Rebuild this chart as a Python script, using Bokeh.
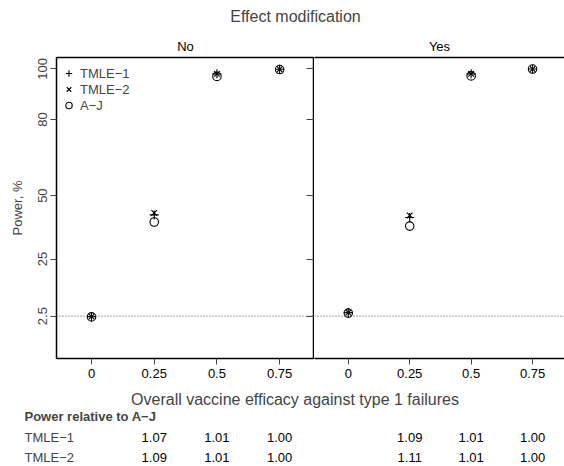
from bokeh.plotting import figure
from bokeh.models import (Range1d, FixedTicker, LinearAxis, Span, Label,
                          Legend, LegendItem)
from bokeh.layouts import column, row
from bokeh.embed import file_html
from bokeh.resources import INLINE
from bokeh.core.properties import value

FONT = "Liberation Sans"

# ---------------- data ----------------
efficacy = [0, 0.25, 0.5, 0.75]
x_tick_labels = ["0", "0.25", "0.5", "0.75"]
y_ticks = [2.5, 25, 50, 80, 100]
y_tick_labels = ["2.5", "25", "50", "80", "100"]
nominal_level = 2.5
panel_names = ["No", "Yes"]
method_names = ["TMLE\u22121", "TMLE\u22122", "A\u2212J"]

no_tmle1 = [2.3, 42.4, 98.0, 99.8]
no_tmle2 = [2.3, 43.2, 98.0, 99.8]
no_aj = [2.2, 39.6, 97.0, 99.7]

yes_tmle1 = [3.9, 41.4, 98.0, 99.9]
yes_tmle2 = [3.9, 42.2, 98.0, 99.9]
yes_aj = [3.7, 38.0, 97.2, 99.9]

ratio_efficacy = [0.25, 0.5, 0.75]
no_ratio_tmle1 = [1.07, 1.01, 1.00]
no_ratio_tmle2 = [1.09, 1.01, 1.00]
yes_ratio_tmle1 = [1.09, 1.01, 1.00]
yes_ratio_tmle2 = [1.11, 1.01, 1.00]

# ---------------- layout constants ----------------
XR_NO = (-0.1396, 0.889)
XR_YES = (-0.1375, 0.880)
YR = (-14.2, 104.45)
W = 564
LEFT_A = 56
FRAME_W_NO = 258
FRAME_W_YES = W - LEFT_A - FRAME_W_NO
FRAME_H = 301
TOP_B = 27
BOTTOM_B = 27
TOP_H = 30
BOT_H = 81

AX_COL = "black"
TICK_COL = "#444444"
LW = 1.5


def fig(**kw):
    p = figure(output_backend="svg", toolbar_location=None,
               x_axis_location=None, y_axis_location=None, **kw)
    p.grid.visible = False
    return p


def bottom_axis(with_line):
    ax = LinearAxis(ticker=FixedTicker(ticks=efficacy),
                    major_label_overrides=dict(zip(efficacy, x_tick_labels)))
    ax.major_tick_out = 6
    ax.major_tick_in = 0
    ax.minor_tick_out = 0
    ax.minor_tick_in = 0
    ax.major_tick_line_color = TICK_COL
    ax.major_label_standoff = 4
    ax.major_label_text_font = FONT
    ax.major_label_text_font_size = "13px"
    ax.major_label_text_color = "black"
    if with_line:
        ax.axis_line_color = AX_COL
        ax.axis_line_width = LW
    else:
        ax.axis_line_color = None
    return ax


def bare_axis():
    ax = LinearAxis(ticker=FixedTicker(ticks=[]))
    ax.major_tick_out = 0
    ax.major_tick_in = 0
    ax.minor_tick_out = 0
    ax.minor_tick_in = 0
    ax.major_label_standoff = 0
    ax.major_label_text_font_size = "0px"
    ax.axis_line_color = AX_COL
    ax.axis_line_width = LW
    return ax


def style_title(p):
    p.title.align = "center"
    p.title.text_font = FONT
    p.title.text_font_size = "13px"
    p.title.text_font_style = "normal"
    p.title.text_color = "black"
    p.title.standoff = 7
    p.title.offset = 0


def add_points(p, t1, t2, aj):
    r1 = p.scatter(x=efficacy, y=t1, marker="cross", size=9,
                   line_color="black", line_width=1.1)
    r2 = p.scatter(x=efficacy, y=t2, marker="x", size=8,
                   line_color="black", line_width=1.1)
    r3 = p.scatter(x=efficacy, y=aj, marker="circle", size=8.5,
                   line_color="black", fill_color=None, line_width=1.1)
    p.add_layout(Span(location=nominal_level, dimension="width",
                      line_color="#444444", line_dash="1 2", line_width=1))
    return r1, r2, r3


# ---------------- panel "No" ----------------
pA = fig(width=LEFT_A + FRAME_W_NO, height=TOP_B + FRAME_H + BOTTOM_B,
         x_range=Range1d(*XR_NO), y_range=Range1d(*YR),
         title=panel_names[0],
         min_border_left=LEFT_A, min_border_right=0,
         min_border_top=TOP_B, min_border_bottom=BOTTOM_B)
style_title(pA)
pA.outline_line_color = AX_COL
pA.outline_line_width = LW

yl = LinearAxis(ticker=FixedTicker(ticks=y_ticks),
                major_label_overrides=dict(zip(y_ticks, y_tick_labels)),
                axis_label="Power, %")
yl.major_tick_out = 6
yl.major_tick_in = 0
yl.minor_tick_out = 0
yl.minor_tick_in = 0
yl.major_tick_line_color = TICK_COL
yl.axis_line_color = None
yl.major_label_orientation = "vertical"
yl.major_label_standoff = 3
yl.major_label_text_font = FONT
yl.major_label_text_font_size = "13px"
yl.axis_label_text_font = FONT
yl.axis_label_text_font_size = "13px"
yl.axis_label_text_font_style = "normal"
yl.axis_label_standoff = 11
pA.add_layout(yl, "left")

yr = LinearAxis(ticker=FixedTicker(ticks=y_ticks),
                major_label_overrides={t: "" for t in y_ticks})
yr.major_tick_out = 0
yr.major_tick_in = 8
yr.minor_tick_out = 0
yr.minor_tick_in = 0
yr.major_tick_line_color = TICK_COL
yr.axis_line_color = None
yr.major_label_standoff = 0
yr.major_label_text_font_size = "0px"
pA.add_layout(yr, "right")

pA.add_layout(bottom_axis(False), "below")

rA = add_points(pA, no_tmle1, no_tmle2, no_aj)
legend = Legend(items=[LegendItem(label=method_names[i], renderers=[rA[i]])
                       for i in range(3)],
                location=(4, 245))
legend.border_line_color = None
legend.background_fill_alpha = 0
legend.padding = 4
legend.margin = 0
legend.spacing = 0
legend.glyph_width = 17
legend.glyph_height = 16
legend.label_height = 16
legend.label_standoff = 3
legend.label_text_font = FONT
legend.label_text_font_size = "13px"
pA.add_layout(legend)

# ---------------- panel "Yes" ----------------
pB = fig(width=FRAME_W_YES, height=TOP_B + FRAME_H + BOTTOM_B,
         x_range=Range1d(*XR_YES), y_range=Range1d(*YR),
         title=panel_names[1],
         min_border_left=0, min_border_right=0,
         min_border_top=TOP_B, min_border_bottom=BOTTOM_B)
style_title(pB)
pB.outline_line_color = None
pB.add_layout(bare_axis(), "above")
pB.add_layout(bottom_axis(True), "below")
add_points(pB, yes_tmle1, yes_tmle2, yes_aj)

# ---------------- overall title ----------------
top = fig(width=W, height=TOP_H, x_range=Range1d(0, W), y_range=Range1d(0, TOP_H),
          min_border=0)
top.outline_line_color = None
top.add_layout(Label(x=295, y=14, x_units="screen", y_units="screen",
                     text="Effect modification", text_align="center",
                     text_baseline="alphabetic", text_font=FONT,
                     text_font_size="16px"))

# ---------------- bottom: x label and ratio table ----------------
scale_no = FRAME_W_NO / (XR_NO[1] - XR_NO[0])
scale_yes = FRAME_W_YES / (XR_YES[1] - XR_YES[0])
bx = Range1d(XR_NO[0] - LEFT_A / scale_no, XR_NO[0] + (W - LEFT_A) / scale_no)
bx_yes = Range1d(XR_YES[0] - (LEFT_A + FRAME_W_NO) / scale_yes, XR_YES[1])
bot = fig(width=W, height=BOT_H, x_range=bx, y_range=Range1d(0, BOT_H),
          extra_x_ranges={"yes": bx_yes}, min_border=0)
bot.outline_line_color = None
bot.add_layout(Label(x=294.5, y=67, x_units="screen", y_units="screen",
                     text="Overall vaccine efficacy against type 1 failures",
                     text_align="center", text_baseline="alphabetic",
                     text_font=FONT, text_font_size="16px"))
bot.add_layout(Label(x=24, y=50, x_units="screen", y_units="screen",
                     text="Power relative to A\u2212J", text_align="left",
                     text_baseline="alphabetic", text_font=FONT,
                     text_font_size="13px", text_font_style="bold"))
row_y = [29, 9]
for name, ry in zip(method_names[:2], row_y):
    bot.add_layout(Label(x=24, y=ry, x_units="screen", y_units="screen",
                         text=name, text_align="left",
                         text_baseline="alphabetic", text_font=FONT,
                         text_font_size="13px"))

for vals, ry, rng in [(no_ratio_tmle1, row_y[0], "default"),
                      (no_ratio_tmle2, row_y[1], "default"),
                      (yes_ratio_tmle1, row_y[0], "yes"),
                      (yes_ratio_tmle2, row_y[1], "yes")]:
    bot.text(x=ratio_efficacy, y=[ry] * len(vals),
             text=[f"{v:.2f}" for v in vals], x_range_name=rng,
             text_align="center", text_baseline="alphabetic",
             text_font=value(FONT), text_font_size="13px", text_color="black")

layout = column(top, row(pA, pB), bot)
open("out.html", "w").write(file_html(layout, INLINE))
